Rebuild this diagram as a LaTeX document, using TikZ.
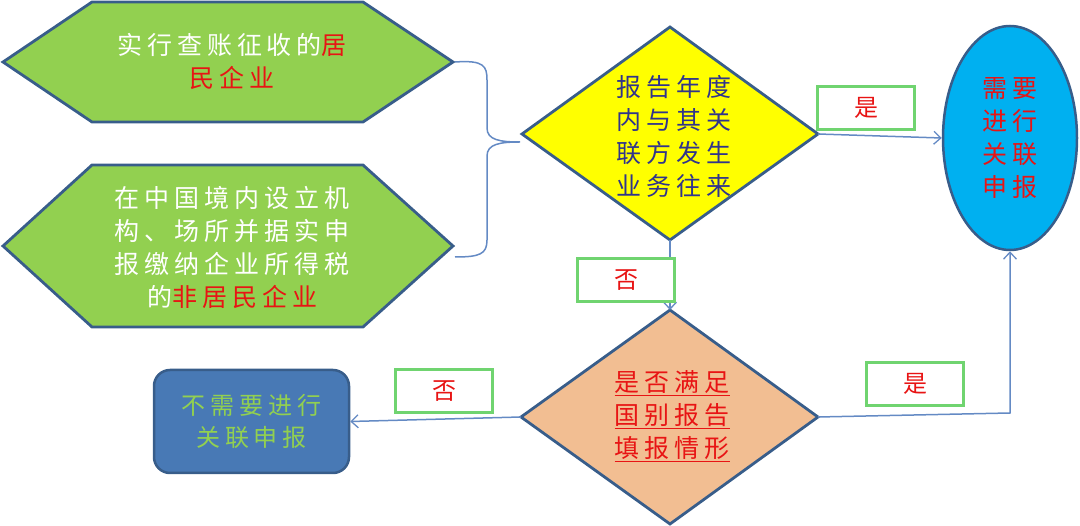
\documentclass[tikz,border=0pt]{standalone}
\usepackage{fontspec}
\newfontfamily\cjk[LetterSpace=20]{Noto Sans CJK SC}
\usetikzlibrary{arrows.meta,shapes.geometric}
\definecolor{hexgreen}{RGB}{146,208,80}
\definecolor{edgeblue}{RGB}{56,93,138}
\definecolor{lineblue}{RGB}{100,138,196}
\definecolor{diayellow}{RGB}{255,255,0}
\definecolor{diaorange}{RGB}{242,190,146}
\definecolor{ellblue}{RGB}{0,176,240}
\definecolor{boxblue}{RGB}{72,121,181}
\definecolor{txtred}{RGB}{232,20,20}
\definecolor{txtnavy}{RGB}{48,52,140}
\definecolor{lblgreen}{RGB}{112,212,112}
\begin{document}
\begin{tikzpicture}[x=1pt,y=-1pt,
  shapeedge/.style={draw=edgeblue,line width=2.8pt,line join=miter},
  conn/.style={draw=lineblue,line width=1.5pt,-{Straight Barb[length=7pt,width=13pt,line width=1.3pt]}},
  bracestyle/.style={draw=lineblue,line width=1.5pt},
  txt/.style={align=center,font={\cjk\fontsize{25}{33}\selectfont},inner sep=0pt},
  lbl/.style={draw=lblgreen,line width=2.5pt,fill=white,minimum width=97pt,minimum height=43pt,inner sep=0pt,text=txtred,font={\cjk\fontsize{24}{30}\selectfont}}]
\useasboundingbox (0,0) rectangle (1080,526);
% hexagons
\draw[shapeedge,fill=hexgreen] (3,62) -- (92,2) -- (363,2) -- (453,62) -- (363,122) -- (92,122) -- cycle;
\draw[shapeedge,fill=hexgreen] (3,246) -- (92,165) -- (363,165) -- (453,246) -- (363,327) -- (92,327) -- cycle;
\node[txt,text=white] (t1) at (232,61) {实行查账征收的\textcolor{txtred}{居}\\\textcolor{txtred}{民企业}};
\node[txt,text=white] (t2) at (232,247) {在中国境内设立机\\构、场所并据实申\\报缴纳企业所得税\\的\textcolor{txtred}{非居民企业}};
% brace
\coordinate (h1) at (455,62);
\coordinate (h2) at (455,257);
\coordinate (bt) at (520,142);
\draw[bracestyle] (h1) .. controls (484,60) and (487,66) .. (487,80) -- (487,128)
  .. controls (487,140) and (500,142) .. (bt)
  .. controls (500,142) and (487,144) .. (487,156) -- (487,240)
  .. controls (487,254) and (480,257) .. (h2);
% upper diamond
\coordinate (dtop) at (670,27);
\coordinate (dleft) at (522,134);
\coordinate (dbot) at (670,240);
\coordinate (dright) at (818,134);
\draw[shapeedge,fill=diayellow] (dtop) -- (dright) -- (dbot) -- (dleft) -- cycle;
\node[txt,text=txtnavy] (t3) at (674,136) {报告年度\\内与其关\\联方发生\\业务往来};
% lower diamond
\coordinate (ltop) at (670,310);
\coordinate (lleft) at (521,417);
\coordinate (lbot) at (670,524);
\coordinate (lright) at (818,417);
\draw[shapeedge,fill=diaorange] (ltop) -- (lright) -- (lbot) -- (lleft) -- cycle;
\node[txt,text=txtred] (t4) at (672,416) {\underline{是否满足}\\\underline{国别报告}\\\underline{填报情形}};
% ellipse
\node[ellipse,draw=edgeblue,line width=2.5pt,fill=ellblue,minimum width=134pt,minimum height=224pt,
  align=center,text=txtred,font={\cjk\fontsize{25}{33}\selectfont}] (ell) at (1010,138) {需要\\进行\\关联\\申报};
% blue box
\node[draw=edgeblue,line width=2.5pt,fill=boxblue,rounded corners=16pt,minimum width=195pt,minimum height=103pt,
  align=center,text=hexgreen,font={\cjk\fontsize{24}{32}\selectfont}] (nb) at (251.5,421.5) {不需要进行\\关联申报};
% connectors
\coordinate (c1) at (1010,413);
\draw[conn] (dright) -- (ell.west);
\draw[conn] (dbot) -- (ltop);
\draw[conn] (lleft) -- (nb.east);
\draw[conn] (lright) -- (c1) -- (ell.south);
% labels
\node[lbl] (l1) at (866,108) {是};
\node[lbl] (l2) at (626,280) {否};
\node[lbl] (l3) at (444,391) {否};
\node[lbl] (l4) at (915,384) {是};
\end{tikzpicture}
\end{document}
